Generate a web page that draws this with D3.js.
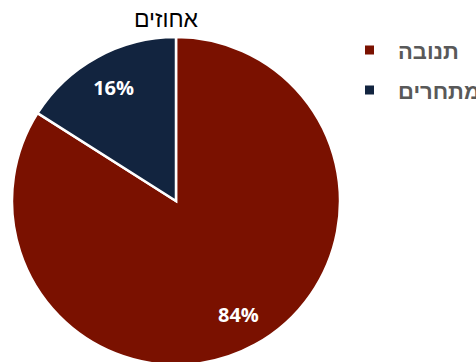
<!DOCTYPE html>
<html>
<head>
<meta charset="utf-8">
<script src="https://cdn.jsdelivr.net/npm/d3@7/dist/d3.min.js"></script>
<style>
  html, body { margin: 0; padding: 0; background: #fff; }
  svg { display: block; }
</style>
</head>
<body>
<svg id="chart" width="476" height="362"></svg>
<script>
// Market share, in percent
const categories = ["תנובה", "מתחרים"];
const shares = [84, 16];
const colors = ["#7a1100", "#12243f"];
const title = "אחוזים";

const svg = d3.select("#chart");
const cx = 176, cy = 201, radius = 164;

const pie = d3.pie().sort(null).value(d => d.value);
const slices = pie(categories.map((c, i) => ({ name: c, value: shares[i] })));

const arc = d3.arc().innerRadius(0).outerRadius(radius);
const labelArc = d3.arc().innerRadius(radius * 0.79).outerRadius(radius * 0.79);
const color = d3.scaleOrdinal().domain(categories).range(colors);

const g = svg.append("g").attr("transform", `translate(${cx},${cy})`);

g.selectAll("path.slice")
  .data(slices)
  .join("path")
  .attr("class", "slice")
  .attr("d", arc)
  .attr("fill", d => color(d.data.name))
  .attr("stroke", "#fff")
  .attr("stroke-width", 2.5);

g.selectAll("text.value")
  .data(slices)
  .join("text")
  .attr("class", "value")
  .attr("transform", d => `translate(${labelArc.centroid(d)})`)
  .attr("text-anchor", "middle")
  .attr("dominant-baseline", "central")
  .attr("font-family", "'Open Sans', sans-serif")
  .attr("font-weight", "bold")
  .attr("font-size", 20)
  .attr("fill", "#fff")
  .text(d => d.data.value + "%");

svg.append("text")
  .attr("x", 166)
  .attr("y", 27)
  .attr("text-anchor", "middle")
  .attr("font-family", "'Noto Sans', sans-serif")
  .attr("font-size", 23)
  .attr("fill", "#000")
  .text(title);

// Legend
const legend = svg.append("g").attr("transform", "translate(365,50)");
const item = legend.selectAll("g.item")
  .data(categories)
  .join("g")
  .attr("class", "item")
  .attr("transform", (d, i) => `translate(0,${i * 40})`);

item.append("rect")
  .attr("x", 0).attr("y", -4.5)
  .attr("width", 9).attr("height", 9)
  .attr("fill", d => color(d));

item.append("text")
  .attr("x", 33)
  .attr("y", 0)
  .attr("direction", "rtl")
  .attr("text-anchor", "end")
  .attr("dominant-baseline", "central")
  .attr("font-family", "'Noto Sans', sans-serif")
  .attr("font-weight", "bold")
  .attr("font-size", 22)
  .attr("fill", "#595959")
  .text(d => d);
</script>
</body>
</html>
